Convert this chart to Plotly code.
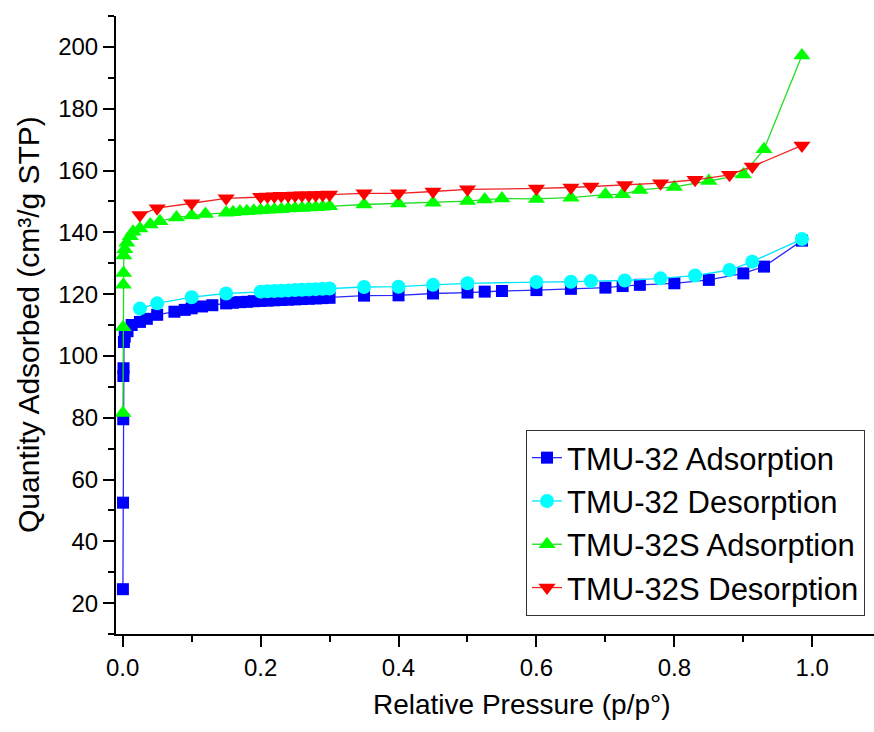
import plotly.graph_objects as go

# ---------------- data ----------------
p_ads_32 = [0.0003, 0.0005, 0.0008, 0.0010, 0.0012, 0.0018, 0.003, 0.007, 0.013, 0.025,
            0.035, 0.05, 0.075, 0.09, 0.10, 0.115, 0.13, 0.15, 0.16, 0.17, 0.18, 0.19,
            0.20, 0.21, 0.22, 0.23, 0.24, 0.25, 0.26, 0.27, 0.28, 0.29, 0.30,
            0.35, 0.40, 0.45, 0.50, 0.525, 0.55, 0.60, 0.65, 0.70, 0.725, 0.75,
            0.80, 0.85, 0.90, 0.93, 0.985]
q_ads_32 = [24.5, 52.5, 79.5, 93.5, 96.0, 104.5, 106.2, 108.0, 110.0, 111.0,
            112.0, 113.3, 114.3, 114.9, 115.4, 116.0, 116.4, 117.0, 117.2, 117.4, 117.5, 117.7,
            117.8, 117.9, 118.0, 118.1, 118.2, 118.3, 118.4, 118.5, 118.6, 118.7, 118.8,
            119.5, 119.6, 120.2, 120.5, 120.8, 121.0, 121.3, 121.7, 122.1, 122.6, 123.0,
            123.5, 124.6, 126.7, 128.9, 137.3]

p_des_32 = [0.985, 0.913, 0.88, 0.83, 0.78, 0.728, 0.679, 0.65, 0.60, 0.50, 0.45, 0.40,
            0.35, 0.30, 0.29, 0.28, 0.27, 0.26, 0.25, 0.24, 0.23, 0.22, 0.21, 0.20,
            0.15, 0.10, 0.05, 0.025]
q_des_32 = [137.8, 130.5, 127.8, 126.0, 125.1, 124.4, 124.2, 124.0, 123.9, 123.5, 123.0, 122.4,
            122.3, 121.8, 121.7, 121.6, 121.5, 121.4, 121.3, 121.2, 121.1, 121.0, 120.9, 120.8,
            120.2, 119.0, 117.0, 115.3]

p_ads_32s = [0.0003, 0.0006, 0.0009, 0.0012, 0.0016, 0.003, 0.006, 0.011, 0.015, 0.025,
             0.04, 0.054, 0.078, 0.10, 0.12, 0.15, 0.16, 0.17, 0.18, 0.19, 0.20, 0.21,
             0.22, 0.23, 0.24, 0.25, 0.26, 0.27, 0.28, 0.29, 0.30, 0.35, 0.40, 0.45,
             0.50, 0.525, 0.55, 0.60, 0.65, 0.70, 0.725, 0.75, 0.80, 0.85, 0.90, 0.93, 0.985]
q_ads_32s = [81.5, 109.3, 123.0, 126.8, 132.5, 134.5, 136.6, 138.7, 140.2, 141.2,
             142.5, 143.6, 144.8, 145.4, 145.9, 146.3, 146.5, 146.7, 146.8, 147.0, 147.1, 147.3,
             147.4, 147.5, 147.7, 147.8, 147.9, 148.0, 148.1, 148.3, 148.4, 149.0, 149.3, 149.6,
             150.1, 150.6, 150.9, 150.8, 151.2, 152.2, 152.3, 153.7, 154.7, 156.6, 158.7, 166.9, 197.2]

p_des_32s = [0.985, 0.913, 0.88, 0.83, 0.78, 0.728, 0.679, 0.65, 0.60, 0.50, 0.45, 0.40,
             0.35, 0.30, 0.29, 0.28, 0.27, 0.26, 0.25, 0.24, 0.23, 0.22, 0.21, 0.20,
             0.15, 0.10, 0.05, 0.025]
q_des_32s = [168.1, 161.3, 158.6, 157.0, 155.9, 155.3, 154.8, 154.5, 154.2, 153.9, 153.2, 152.6,
             152.6, 152.2, 152.15, 152.1, 152.0, 151.95, 151.9, 151.85, 151.8, 151.7, 151.6, 151.5,
             151.0, 149.4, 147.8, 145.6]

series_names = ["TMU-32 Adsorption", "TMU-32 Desorption", "TMU-32S Adsorption", "TMU-32S Desorption"]
x_ticks = [0.0, 0.2, 0.4, 0.6, 0.8, 1.0]
x_tick_text = ["0.0", "0.2", "0.4", "0.6", "0.8", "1.0"]
y_ticks = [20, 40, 60, 80, 100, 120, 140, 160, 180, 200]

# ---------------- figure ----------------
FONT = "Arial, 'Liberation Sans', sans-serif"
W, H = 874, 732
ML, MR, MT, MB = 116, 0, 16, 98

styles = [
    dict(color="#0000FF", symbol="square", size=12, line="#2a2aff"),
    dict(color="#00FFFF", symbol="circle", size=14, line="#00e5ff"),
    dict(color="#00FF00", symbol="triangle-up", size=15, line="#22dd22"),
    dict(color="#FF0000", symbol="triangle-down", size=15, line="#ee2222"),
]
data = [(p_ads_32, q_ads_32), (p_des_32, q_des_32), (p_ads_32s, q_ads_32s), (p_des_32s, q_des_32s)]

fig = go.Figure()
for (xs, ys), name, st in zip(data, series_names, styles):
    fig.add_trace(go.Scatter(
        x=xs, y=ys, name=name, mode="lines+markers",
        line=dict(color=st["line"], width=1.3),
        marker=dict(symbol=st["symbol"], size=st["size"], color=st["color"],
                    line=dict(width=0)),
    ))

def px2paper_x(px):
    return (px - ML) / (W - ML - MR)

def px2paper_y(py):
    return (H - MB - py) / (H - MT - MB)

axis_common = dict(
    showline=True, linecolor="black", linewidth=2, mirror=False,
    ticks="outside", ticklen=11, tickwidth=2, tickcolor="black",
    showgrid=False, zeroline=False,
    tickfont=dict(family=FONT, size=24, color="black"),
)

fig.update_layout(
    width=W, height=H,
    margin=dict(l=ML, r=MR, t=MT, b=MB),
    paper_bgcolor="white", plot_bgcolor="white",
    font=dict(family=FONT, color="black"),
    xaxis=dict(range=[-0.0097, 1.0895], tickvals=x_ticks, ticktext=x_tick_text,
               minor=dict(ticks="outside", ticklen=6, tickwidth=2, tickcolor="black",
                          dtick=0.1, tick0=0, showgrid=False),
               **axis_common),
    yaxis=dict(range=[10, 210], tickvals=y_ticks,
               minor=dict(ticks="outside", ticklen=6, tickwidth=2, tickcolor="black",
                          dtick=10, tick0=0, showgrid=False),
               **axis_common),
    legend=dict(
        x=px2paper_x(526), y=px2paper_y(430), xanchor="left", yanchor="top",
        bgcolor="white", bordercolor="#333333", borderwidth=1,
        font=dict(family=FONT, size=31, color="black"),
        tracegroupgap=0, itemsizing="trace",
    ),
    showlegend=True,
    annotations=[
        dict(text="Relative Pressure (p/p°)", xref="paper", yref="paper",
             x=px2paper_x(522), y=px2paper_y(704), xanchor="center", yanchor="middle",
             showarrow=False, font=dict(family=FONT, size=28, color="black")),
        dict(text="Quantity Adsorbed (cm³/g STP)", xref="paper", yref="paper",
             x=px2paper_x(28), y=px2paper_y(325), xanchor="center", yanchor="middle",
             textangle=-90, showarrow=False, font=dict(family=FONT, size=30, color="black")),
    ],
)

fig.write_html("out.html")
